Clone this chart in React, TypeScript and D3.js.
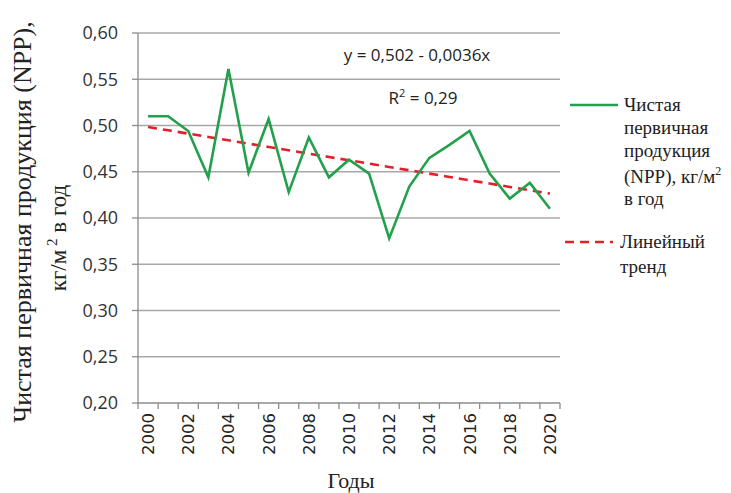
import * as d3 from "d3"

const years = d3.range(2000, 2021)
const nppValues = [
  0.51, 0.51, 0.494, 0.444, 0.561, 0.449, 0.507, 0.428, 0.487, 0.444, 0.463,
  0.448, 0.378, 0.434, 0.465, 0.479, 0.494, 0.448, 0.421, 0.438, 0.41,
]
const yTicks = [0.2, 0.25, 0.3, 0.35, 0.4, 0.45, 0.5, 0.55, 0.6]
// trend from the equation shown on the chart, x = 1..21
const trendIntercept = 0.502
const trendSlope = -0.0036

const W = 731
const H = 493
const margin = { left: 138, right: 171, top: 33, bottom: 90 }

const serif = "'Liberation Serif', 'Times New Roman', serif"
const sans = "'Open Sans', sans-serif"
const green = "#22a04b"
const red = "#e3202a"

export default function App() {
  const x = d3
    .scaleBand<number>()
    .domain(years)
    .range([margin.left, W - margin.right])
  const y = d3
    .scaleLinear()
    .domain([0.2, 0.6])
    .range([H - margin.bottom, margin.top])
  const cx = (yr: number) => (x(yr) ?? 0) + x.bandwidth() / 2

  const line = d3
    .line<number>()
    .x((_, i) => cx(years[i]))
    .y((d) => y(d))

  const trend = years.map((_, i) => trendIntercept + trendSlope * (i + 1))
  const fmt = (v: number) => v.toFixed(2).replace(".", ",")
  const bottom = y(0.2)

  return (
    <svg
      width={W}
      height={H}
      style={{ position: "absolute", left: 0, top: 0, background: "#fff" }}
    >
      {/* grid */}
      {yTicks.map((t) => (
        <g key={t}>
          {t > 0.2 && (
            <line x1={margin.left} x2={W - margin.right} y1={y(t)} y2={y(t)} stroke="#a8a8a8" strokeWidth={1.3} />
          )}
          <line x1={margin.left - 6} x2={margin.left} y1={y(t)} y2={y(t)} stroke="#8c8c8c" strokeWidth={1.3} />
          <text x={margin.left - 20} y={y(t)} dy="0.35em" textAnchor="end" fontFamily={sans} fontSize={18} fill="#333">
            {fmt(t)}
          </text>
        </g>
      ))}

      {/* axes */}
      <line x1={margin.left} x2={margin.left} y1={margin.top} y2={bottom} stroke="#8c8c8c" strokeWidth={1.3} />
      <line x1={margin.left} x2={W - margin.right} y1={bottom} y2={bottom} stroke="#8c8c8c" strokeWidth={1.3} />
      {years.concat([2021]).map((yr, i) => {
        const px = i < years.length ? x(yr)! : W - margin.right
        return <line key={"t" + yr} x1={px} x2={px} y1={bottom} y2={bottom + 6} stroke="#8c8c8c" strokeWidth={1.3} />
      })}
      {years
        .filter((yr) => yr % 2 === 0)
        .map((yr) => (
          <text
            key={"l" + yr}
            transform={`translate(${cx(yr)},${bottom + 10}) rotate(-90)`}
            dy="0.36em"
            textAnchor="end"
            fontFamily="'DejaVu Sans', sans-serif"
            fontSize={16.5}
            fill="#222"
          >
            {yr}
          </text>
        ))}

      {/* series */}
      <path d={line(trend) ?? ""} fill="none" stroke={red} strokeWidth={2.6} strokeDasharray="9,6" />
      <path d={line(nppValues) ?? ""} fill="none" stroke={green} strokeWidth={2.6} strokeLinejoin="miter" />

      {/* equation */}
      <text x={417} y={55} dy="0.35em" textAnchor="middle" fontFamily={sans} fontSize={17} fill="#222">
        y = 0,502 - 0,0036x
      </text>
      <text x={423} y={98} dy="0.35em" textAnchor="middle" fontFamily={sans} fontSize={17} fill="#222">
        R<tspan dy="-7" fontSize={11}>2</tspan>
        <tspan dy="7"> = 0,29</tspan>
      </text>

      {/* axis titles */}
      <text transform="translate(31,222) rotate(-90)" textAnchor="middle" fontFamily={serif} fontSize={26} fill="#222">
        Чистая первичная продукция (NPP),
      </text>
      <text transform="translate(66,238) rotate(-90)" textAnchor="middle" fontFamily={serif} fontSize={23} fill="#222">
        кг/м<tspan dy="-9" fontSize={15}> 2</tspan>
        <tspan dy="9"> в год</tspan>
      </text>
      <text x={351} y={488} textAnchor="middle" fontFamily={serif} fontSize={22} fill="#222">
        Годы
      </text>

      {/* legend */}
      <line x1={570} x2={618} y1={105} y2={105} stroke={green} strokeWidth={2.6} />
      {["Чистая", "первичная", "продукция"].map((s, i) => (
        <text key={s} x={624} y={105 + i * 23} dy="0.33em" fontFamily={serif} fontSize={19} fill="#222">
          {s}
        </text>
      ))}
      <text x={624} y={177} dy="0.33em" fontFamily={serif} fontSize={19} fill="#222">
        (NPP), кг/м<tspan dy="-8" fontSize={12}>2</tspan>
      </text>
      <text x={624} y={199} dy="0.33em" fontFamily={serif} fontSize={19} fill="#222">
        в год
      </text>
      <line x1={565} x2={613} y1={242} y2={242} stroke={red} strokeWidth={2.6} strokeDasharray="9,6" />
      <text x={620} y={242} dy="0.33em" fontFamily={serif} fontSize={19} fill="#222">
        Линейный
      </text>
      <text x={620} y={267} dy="0.33em" fontFamily={serif} fontSize={19} fill="#222">
        тренд
      </text>
    </svg>
  )
}
